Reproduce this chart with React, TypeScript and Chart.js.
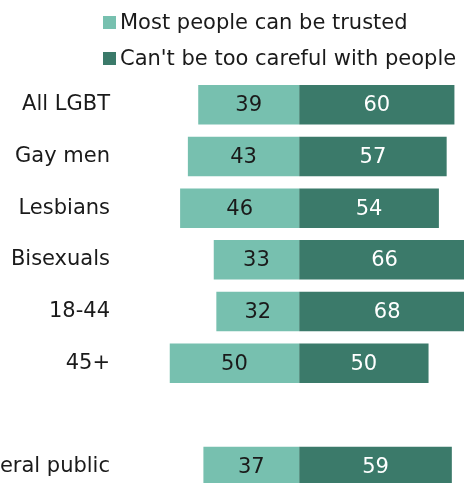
import React, { useEffect, useRef } from "react";
import { Chart, registerables } from "chart.js";

Chart.register(...registerables);

const categories = ["All LGBT", "Gay men", "Lesbians", "Bisexuals", "18-44", "45+", "", "General public"];
const trustedValues = [39, 43, 46, 33, 32, 50, null, 37];
const carefulValues = [60, 57, 54, 66, 68, 50, null, 59];
const seriesNames = ["Most people can be trusted", "Can't be too careful with people"];
const seriesColors = ["#77c0af", "#3b7a6a"];
const labelColors = ["#1a1a1a", "#ffffff"];

const FONT = "'DejaVu Sans', Verdana, sans-serif";

const valueLabels = {
  id: "valueLabels",
  afterDatasetsDraw(chart: any) {
    const ctx = chart.ctx;
    ctx.save();
    ctx.font = `21px ${FONT}`;
    ctx.textAlign = "center";
    ctx.textBaseline = "middle";
    chart.data.datasets.forEach((ds: any, di: number) => {
      const meta = chart.getDatasetMeta(di);
      meta.data.forEach((bar: any, i: number) => {
        const v = ds.data[i];
        if (v === null || v === undefined) return;
        const cx = (bar.x + bar.base) / 2;
        ctx.fillStyle = labelColors[di];
        ctx.fillText(String(Math.abs(v)), cx, bar.y + 1);
      });
    });
    ctx.restore();
  },
};

export default function App() {
  const ref = useRef<HTMLCanvasElement>(null);
  useEffect(() => {
    if (!ref.current) return;
    const chart = new Chart(ref.current, {
      type: "bar",
      data: {
        labels: categories,
        datasets: [
          {
            label: seriesNames[0],
            data: trustedValues.map((v) => (v === null ? null : -v)),
            backgroundColor: seriesColors[0],
            barPercentage: 0.764,
            categoryPercentage: 1,
          },
          {
            label: seriesNames[1],
            data: carefulValues,
            backgroundColor: seriesColors[1],
            barPercentage: 0.764,
            categoryPercentage: 1,
          },
        ],
      },
      options: {
        indexAxis: "y",
        responsive: false,
        animation: false,
        layout: { padding: { top: 79, bottom: 0, left: 0, right: 0 } },
        plugins: {
          legend: { display: false },
          tooltip: { enabled: false },
        },
        scales: {
          x: {
            stacked: true,
            display: false,
            min: -70,
            max: 63.7,
          },
          y: {
            stacked: true,
            grid: { display: false },
            border: { display: false },
            ticks: {
              padding: 0,
              color: "#1a1a1a",
              font: { family: FONT, size: 21 },
            },
            afterFit: (scale: any) => {
              scale.width = 118;
            },
          },
        },
      },
      plugins: [valueLabels],
    });
    return () => chart.destroy();
  }, []);

  const legendItem = (i: number, top: number) => (
    <div
      key={i}
      style={{
        position: "absolute",
        left: 103,
        top,
        height: 24,
        display: "flex",
        alignItems: "center",
        fontFamily: FONT,
        fontSize: 21,
        color: "#1a1a1a",
        whiteSpace: "nowrap",
      }}
    >
      <span style={{ display: "inline-block", width: 13, height: 13, background: seriesColors[i], marginRight: 4 }} />
      <span>{seriesNames[i]}</span>
    </div>
  );

  return (
    <div style={{ position: "fixed", left: 0, top: 0, width: 464, height: 483, overflow: "hidden", background: "#fff" }}>
      <canvas ref={ref} width={464} height={505} style={{ position: "absolute", left: 0, top: 0 }} />
      {legendItem(0, 10)}
      {legendItem(1, 46)}
    </div>
  );
}
